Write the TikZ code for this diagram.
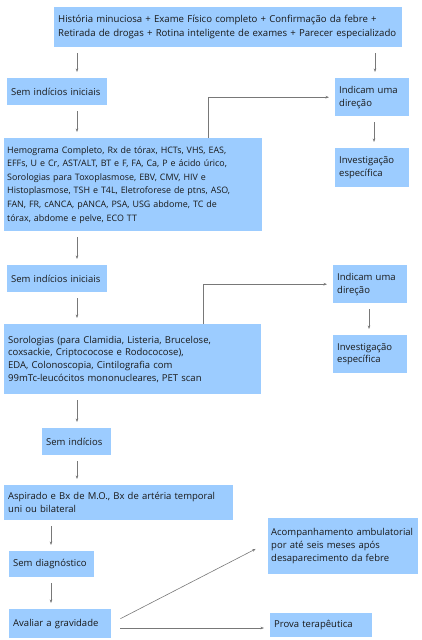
\documentclass[tikz,border=0pt]{standalone}
\usepackage{fontspec}
\setmainfont{Open Sans}
\usetikzlibrary{arrows.meta}

\definecolor{boxblue}{RGB}{156,204,255}
\definecolor{linegray}{RGB}{120,120,120}

\tikzset{
  box/.style={fill=boxblue, anchor=north west, align=left, inner xsep=4pt, inner ysep=0pt,
    font=\fontsize{9.5}{12.8}\selectfont, text=black!90},
  dense/.style={font=\fontsize{8.9}{13.6}\selectfont, inner xsep=3pt},
  arr/.style={draw=linegray, line width=0.6pt, -{Stealth[length=3.5pt,width=2.6pt]},
    shorten >=6pt, shorten <=6pt}
}

\begin{document}
\begin{tikzpicture}[x=1pt,y=-1pt]
  % Page frame
  \useasboundingbox (0,0) rectangle (421,640);

  % Boxes
  \node[box, font=\fontsize{9.6}{13.6}\selectfont, minimum width=348, minimum height=40,
    text width=340] (exame) at (54,7)
    {História minuciosa + Exame Físico completo + Confirmação da febre +\\
     Retirada de drogas + Rotina inteligente de exames + Parecer especializado};
  \node[box, minimum width=100, minimum height=27, text width=92] (semA) at (7,78)
    {Sem indícios iniciais};
  \node[box, minimum width=74, minimum height=38, text width=66] (dirA) at (335,78)
    {Indicam uma\\ direção};
  \node[box, dense, minimum width=258, minimum height=93, text width=252] (hemo) at (4,138)
    {Hemograma Completo, Rx de tórax, HCTs, VHS, EAS,\\
     EFFs, U e Cr, AST/ALT, BT e F, FA, Ca, P e ácido úrico,\\
     Sorologias para Toxoplasmose, EBV, CMV, HIV e\\
     Histoplasmose, TSH e T4L, Eletroforese de ptns, ASO,\\
     FAN, FR, cANCA, pANCA, PSA, USG abdome, TC de\\
     tórax, abdome e pelve, ECO TT};
  \node[box, minimum width=74, minimum height=39, text width=66] (invA) at (335,148)
    {Investigação\\ específica};
  \node[box, minimum width=100, minimum height=27, text width=92] (semB) at (7,265)
    {Sem indícios iniciais};
  \node[box, minimum width=74, minimum height=38, text width=66] (dirB) at (333,265)
    {Indicam uma\\ direção};
  \node[box, minimum width=257, minimum height=70, text width=249] (soro) at (4,324)
    {Sorologias (para Clamidia, Listeria, Brucelose,\\
     coxsackie, Criptococose e Rodococose),\\
     EDA, Colonoscopia, Cintilografia com\\
     99mTc-leucócitos mononucleares, PET scan};
  \node[box, minimum width=74, minimum height=38, text width=66] (invB) at (333,335)
    {Investigação\\ específica};
  \node[box, minimum width=69, minimum height=27, text width=61] (semC) at (42,428)
    {Sem indícios};
  \node[box, minimum width=229, minimum height=35, text width=221] (aspi) at (4,485)
    {Aspirado e Bx de M.O., Bx de artéria temporal\\ uni ou bilateral};
  \node[box, minimum width=85, minimum height=26, text width=77] (semdiag) at (9,551)
    {Sem diagnóstico};
  \node[box, minimum width=102, minimum height=29, text width=94] (grav) at (9,609)
    {Avaliar a gravidade};
  \node[box, inner xsep=3pt, minimum width=150, minimum height=56, text width=144] (acomp) at (268,518)
    {Acompanhamento ambulatorial\\ por até seis meses após\\ desaparecimento da febre};
  \node[box, minimum width=102, minimum height=24, text width=94] (prova) at (270,613)
    {Prova terapêutica};

  % Connectors
  \draw[arr] (exame.south -| 77,0) -- (semA.north -| 77,0);
  \draw[arr] (exame.south -| 375,0) -- (dirA.north -| 375,0);
  \draw[arr] (semA.south -| 77,0) -- (hemo.north -| 77,0);
  \draw[arr, shorten <=0pt] (hemo.north -| 208,0) |- (dirA.west);
  \draw[arr] (dirA.south -| 374,0) -- (invA.north -| 374,0);
  \draw[arr] (hemo.south -| 77,0) -- (semB.north -| 77,0);
  \draw[arr] (semB.south -| 77,0) -- (soro.north -| 77,0);
  \draw[arr, shorten <=0pt] (soro.north -| 203,0) |- (dirB.west);
  \draw[arr] (dirB.south -| 369,0) -- (invB.north -| 369,0);
  \draw[arr] (soro.south -| 77,0) -- (semC.north -| 77,0);
  \draw[arr] (semC.south -| 77,0) -- (aspi.north -| 77,0);
  \draw[arr] (aspi.south -| 51,0) -- (semdiag.north -| 51,0);
  \draw[arr] (semdiag.south -| 51,0) -- (grav.north -| 51,0);
  \draw[arr, shorten <=0pt] ([shift={(9,-5)}]grav.east) -- ([xshift=-7pt]acomp.west);
  \draw[arr, shorten <=9pt] (grav.east |- 0,628) -- (prova.west |- 0,628);
\end{tikzpicture}
\end{document}
